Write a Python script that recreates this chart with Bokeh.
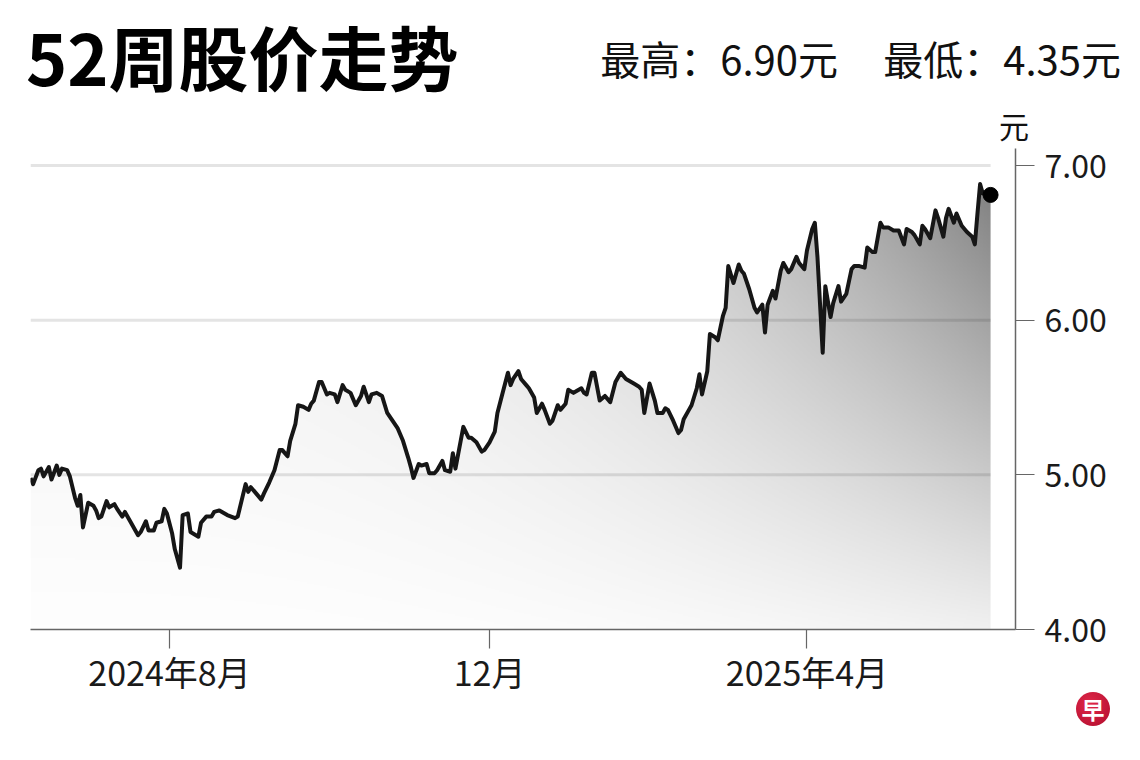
import numpy as np
import pandas as pd
from bokeh.plotting import figure
from bokeh.layouts import column
from bokeh.models import (ColumnDataSource, Range1d, FixedTicker, Div,
                          PrintfTickFormatter)
from bokeh.embed import file_html
from bokeh.resources import INLINE

# ---------------- data ----------------
title_text = "52周股价走势"
high_text = "最高：6.90元"
low_text = "最低：4.35元"
unit_text = "元"
logo_text = "早"

dates = [
    "2024-06-09", "2024-06-10", "2024-06-12", "2024-06-13", "2024-06-14", "2024-06-16", "2024-06-17", "2024-06-19",
    "2024-06-20", "2024-06-21", "2024-06-23", "2024-06-24", "2024-06-26", "2024-06-27", "2024-06-28", "2024-06-29",
    "2024-07-01", "2024-07-03", "2024-07-04", "2024-07-05", "2024-07-06", "2024-07-08", "2024-07-09", "2024-07-11",
    "2024-07-12", "2024-07-14", "2024-07-15", "2024-07-17", "2024-07-20", "2024-07-21", "2024-07-23", "2024-07-24",
    "2024-07-26", "2024-07-27", "2024-07-29", "2024-07-30", "2024-07-31", "2024-08-02", "2024-08-03", "2024-08-05",
    "2024-08-06", "2024-08-08", "2024-08-09", "2024-08-12", "2024-08-13", "2024-08-15", "2024-08-17", "2024-08-18",
    "2024-08-20", "2024-08-23", "2024-08-26", "2024-08-27", "2024-08-30", "2024-08-31", "2024-09-01", "2024-09-03",
    "2024-09-05", "2024-09-06", "2024-09-08", "2024-09-10", "2024-09-12", "2024-09-13", "2024-09-15", "2024-09-16",
    "2024-09-18", "2024-09-19", "2024-09-21", "2024-09-23", "2024-09-24", "2024-09-25", "2024-09-27", "2024-09-28",
    "2024-09-30", "2024-10-01", "2024-10-03", "2024-10-04", "2024-10-06", "2024-10-07", "2024-10-09", "2024-10-11",
    "2024-10-13", "2024-10-14", "2024-10-16", "2024-10-17", "2024-10-19", "2024-10-21", "2024-10-23", "2024-10-25",
    "2024-10-27", "2024-10-29", "2024-10-31", "2024-11-01", "2024-11-02", "2024-11-04", "2024-11-05", "2024-11-07",
    "2024-11-08", "2024-11-10", "2024-11-11", "2024-11-13", "2024-11-14", "2024-11-16", "2024-11-17", "2024-11-18",
    "2024-11-21", "2024-11-23", "2024-11-24", "2024-11-26", "2024-11-28", "2024-11-29", "2024-12-01", "2024-12-03",
    "2024-12-04", "2024-12-06", "2024-12-08", "2024-12-09", "2024-12-10", "2024-12-12", "2024-12-13", "2024-12-15",
    "2024-12-16", "2024-12-18", "2024-12-19", "2024-12-21", "2024-12-22", "2024-12-24", "2024-12-25", "2024-12-27",
    "2024-12-28", "2024-12-30", "2024-12-31", "2025-01-02", "2025-01-03", "2025-01-05", "2025-01-06", "2025-01-07",
    "2025-01-09", "2025-01-10", "2025-01-12", "2025-01-14", "2025-01-16", "2025-01-18", "2025-01-20", "2025-01-22",
    "2025-01-23", "2025-01-25", "2025-01-27", "2025-01-28", "2025-01-29", "2025-01-31", "2025-02-02", "2025-02-03",
    "2025-02-05", "2025-02-06", "2025-02-07", "2025-02-09", "2025-02-11", "2025-02-12", "2025-02-13", "2025-02-15",
    "2025-02-16", "2025-02-18", "2025-02-19", "2025-02-20", "2025-02-22", "2025-02-23", "2025-02-25", "2025-02-26",
    "2025-02-28", "2025-03-01", "2025-03-02", "2025-03-04", "2025-03-06", "2025-03-07", "2025-03-08", "2025-03-10",
    "2025-03-12", "2025-03-13", "2025-03-15", "2025-03-16", "2025-03-17", "2025-03-19", "2025-03-20", "2025-03-22",
    "2025-03-23", "2025-03-25", "2025-03-26", "2025-03-28", "2025-03-29", "2025-03-31", "2025-04-01", "2025-04-03",
    "2025-04-04", "2025-04-05", "2025-04-07", "2025-04-08", "2025-04-10", "2025-04-11", "2025-04-13", "2025-04-14",
    "2025-04-16", "2025-04-18", "2025-04-19", "2025-04-21", "2025-04-23", "2025-04-24", "2025-04-26", "2025-04-27",
    "2025-04-29", "2025-04-30", "2025-05-02", "2025-05-04", "2025-05-06", "2025-05-08", "2025-05-09", "2025-05-11",
    "2025-05-12", "2025-05-14", "2025-05-15", "2025-05-16", "2025-05-18", "2025-05-20", "2025-05-21", "2025-05-23",
    "2025-05-24", "2025-05-25", "2025-05-27", "2025-05-28", "2025-05-30", "2025-06-01", "2025-06-03", "2025-06-04",
    "2025-06-05", "2025-06-06", "2025-06-07", "2025-06-09", "2025-06-10",
]

prices = [
    4.98, 4.94, 5.03, 5.04, 4.99, 5.05, 4.97, 5.06,
    5.00, 5.04, 5.03, 4.99, 4.85, 4.80, 4.87, 4.66,
    4.82, 4.80, 4.77, 4.72, 4.73, 4.83, 4.79, 4.81,
    4.78, 4.73, 4.76, 4.70, 4.61, 4.63, 4.70, 4.64,
    4.64, 4.69, 4.70, 4.78, 4.75, 4.62, 4.52, 4.40,
    4.74, 4.75, 4.63, 4.60, 4.69, 4.73, 4.73, 4.76,
    4.77, 4.74, 4.72, 4.73, 4.94, 4.89, 4.92, 4.88,
    4.84, 4.88, 4.95, 5.03, 5.16, 5.16, 5.12, 5.22,
    5.33, 5.45, 5.44, 5.42, 5.46, 5.48, 5.60, 5.60,
    5.52, 5.53, 5.52, 5.47, 5.58, 5.55, 5.53, 5.45,
    5.51, 5.57, 5.47, 5.52, 5.53, 5.51, 5.40, 5.35,
    5.30, 5.22, 5.11, 5.05, 4.98, 5.07, 5.06, 5.07,
    5.01, 5.01, 5.03, 5.09, 5.03, 5.02, 5.14, 5.04,
    5.31, 5.24, 5.24, 5.21, 5.15, 5.16, 5.21, 5.28,
    5.40, 5.53, 5.66, 5.58, 5.62, 5.67, 5.62, 5.58,
    5.56, 5.50, 5.40, 5.46, 5.42, 5.33, 5.35, 5.45,
    5.42, 5.46, 5.55, 5.53, 5.54, 5.56, 5.53, 5.52,
    5.66, 5.66, 5.48, 5.51, 5.47, 5.60, 5.66, 5.62,
    5.61, 5.59, 5.57, 5.55, 5.40, 5.59, 5.48, 5.40,
    5.40, 5.43, 5.42, 5.35, 5.27, 5.29, 5.36, 5.42,
    5.45, 5.56, 5.65, 5.52, 5.67, 5.91, 5.89, 5.87,
    6.03, 6.08, 6.35, 6.24, 6.36, 6.32, 6.30, 6.20,
    6.08, 6.05, 6.10, 5.92, 6.10, 6.19, 6.14, 6.32,
    6.37, 6.31, 6.33, 6.41, 6.37, 6.33, 6.45, 6.59,
    6.63, 6.41, 5.79, 6.22, 6.02, 6.11, 6.22, 6.12,
    6.17, 6.33, 6.35, 6.35, 6.34, 6.47, 6.44, 6.44,
    6.63, 6.60, 6.60, 6.58, 6.58, 6.49, 6.59, 6.57,
    6.55, 6.49, 6.61, 6.59, 6.53, 6.71, 6.66, 6.54,
    6.66, 6.72, 6.63, 6.69, 6.61, 6.57, 6.54, 6.49,
    6.69, 6.88, 6.82, 6.81, 6.81,
]

x_tick_dates = ["2024-08-01", "2024-12-01", "2025-04-01"]
x_tick_labels = ["2024年8月", "12月", "2025年4月"]
y_ticks = [4.0, 5.0, 6.0, 7.0]
grid_levels = [5.0, 6.0, 7.0]

# ---------------- styling ----------------
FONT = "Noto Sans CJK SC"
LINE_COLOR = "#161616"
AXIS_COLOR = "#666666"
GRID_COLOR = "#e4e4e4"
W = 1140
HH = 140          # header height
PH = 565          # main plot height
FH = 47           # footer height

# ---------------- header (title, extremes, unit) ----------------
header_html = f"""
<div style="position:relative;width:{W}px;height:{HH}px;font-family:'{FONT}';color:#111;">
  <span style="position:absolute;left:26px;top:21px;font-size:70px;line-height:70px;font-weight:bold;color:#000;white-space:nowrap;">{title_text}</span>
  <span style="position:absolute;right:{W - 838}px;top:38px;font-size:40px;line-height:40px;white-space:nowrap;">{high_text}</span>
  <span style="position:absolute;right:{W - 1121}px;top:38px;font-size:40px;line-height:40px;white-space:nowrap;">{low_text}</span>
  <span style="position:absolute;left:999px;top:112px;width:30px;text-align:center;font-size:30px;line-height:26px;white-space:nowrap;">{unit_text}</span>
</div>
"""
header = Div(text=header_html, width=W, height=HH, margin=(0, 0, 0, 0),
             styles={"overflow": "visible"})

# ---------------- main chart ----------------
dt = pd.to_datetime(dates)
x_ms = (dt.astype("int64") // 10**6).to_numpy().astype(float)
vals = np.array(prices, dtype=float)
DAY = 86400000.0

x_start = x_ms[0]
x_end = x_ms[-1] + 9.5 * DAY
y_lo, y_hi = 4.0, 7.11

p = figure(width=W, height=PH, x_axis_type="datetime", y_axis_location="right",
           x_range=Range1d(x_start, x_end), y_range=Range1d(y_lo, y_hi),
           output_backend="svg", toolbar_location=None,
           min_border_left=30, min_border_right=125, min_border_top=8, min_border_bottom=76)
p.outline_line_color = None
p.background_fill_color = "white"
p.border_fill_color = None
p.xgrid.visible = False
p.ygrid.visible = False

# grid lines spanning the data range
grid_src = ColumnDataSource(dict(x0=[dt[0]] * len(grid_levels), x1=[dt[-1]] * len(grid_levels),
                                 y=grid_levels))
p.segment(x0="x0", y0="y", x1="x1", y1="y", source=grid_src, line_color=GRID_COLOR, line_width=3)

# gradient fill under the line (image masked by the price curve)
NX, NY = 720, 360
cx = x_ms[0] + (np.arange(NX) + 0.5) * (x_ms[-1] - x_ms[0]) / NX
cy = y_lo + (np.arange(NY) + 0.5) * (y_hi - y_lo) / NY
pc = np.interp(cx, x_ms, vals)
xf = (cx - x_ms[0]) / (x_ms[-1] - x_ms[0])
h = 0.12 + 0.88 * xf ** 2.8
v = np.clip((cy - 3.6) / 3.4, 0, 1)
D = 0.52 * v[:, None] * h[None, :]
mask = cy[:, None] <= pc[None, :]
alpha = np.clip(D * 255 * mask, 0, 255).astype(np.uint8)
img = np.zeros((NY, NX), dtype=np.uint32)
view = img.view(dtype=np.uint8).reshape((NY, NX, 4))
view[..., 3] = alpha
p.image_rgba(image=[img], x=x_ms[0], y=y_lo, dw=x_ms[-1] - x_ms[0], dh=y_hi - y_lo)

src = ColumnDataSource(dict(x=dt, y=vals))
p.line("x", "y", source=src, line_color=LINE_COLOR, line_width=4, line_join="round")
p.scatter(x=[dt[-1]], y=[vals[-1]], size=15, color="black")

# axes
xt = [float(pd.Timestamp(d).value // 10**6) for d in x_tick_dates]
xa = p.xaxis[0]
xa.ticker = FixedTicker(ticks=xt)
xa.major_label_overrides = {t: lab for t, lab in zip(xt, x_tick_labels)}
ya = p.yaxis[0]
ya.ticker = FixedTicker(ticks=y_ticks)
ya.formatter = PrintfTickFormatter(format="%.2f")
for ax in (xa, ya):
    ax.axis_line_color = AXIS_COLOR
    ax.axis_line_width = 1.5
    ax.major_tick_line_color = AXIS_COLOR
    ax.major_tick_line_width = 1.2
    ax.major_tick_out = 19
    ax.major_tick_in = 0
    ax.minor_tick_line_color = None
    ax.major_label_text_font = FONT
    ax.major_label_text_color = "#1a1a1a"
xa.major_label_standoff = -2
xa.major_label_text_font_size = "34px"
ya.major_label_standoff = 10
ya.major_label_text_font_size = "32px"
ya.major_label_text_baseline = "middle"

# ---------------- footer (logo) ----------------
logo_top = 692 - (HH + PH)
footer_html = f"""
<div style="position:relative;width:{W}px;height:{FH}px;">
  <div style="position:absolute;left:1076px;top:{logo_top}px;width:34px;height:34px;border-radius:17px;
              background:radial-gradient(circle at 40% 35%, #e0284a, #b00c2c);color:#fff;
              font-family:'{FONT}';font-weight:bold;font-size:23px;line-height:34px;text-align:center;">{logo_text}</div>
</div>
"""
footer = Div(text=footer_html, width=W, height=FH, margin=(0, 0, 0, 0),
             styles={"overflow": "visible"})

layout = column(header, p, footer, spacing=0)
open("out.html", "w").write(file_html(layout, INLINE))
